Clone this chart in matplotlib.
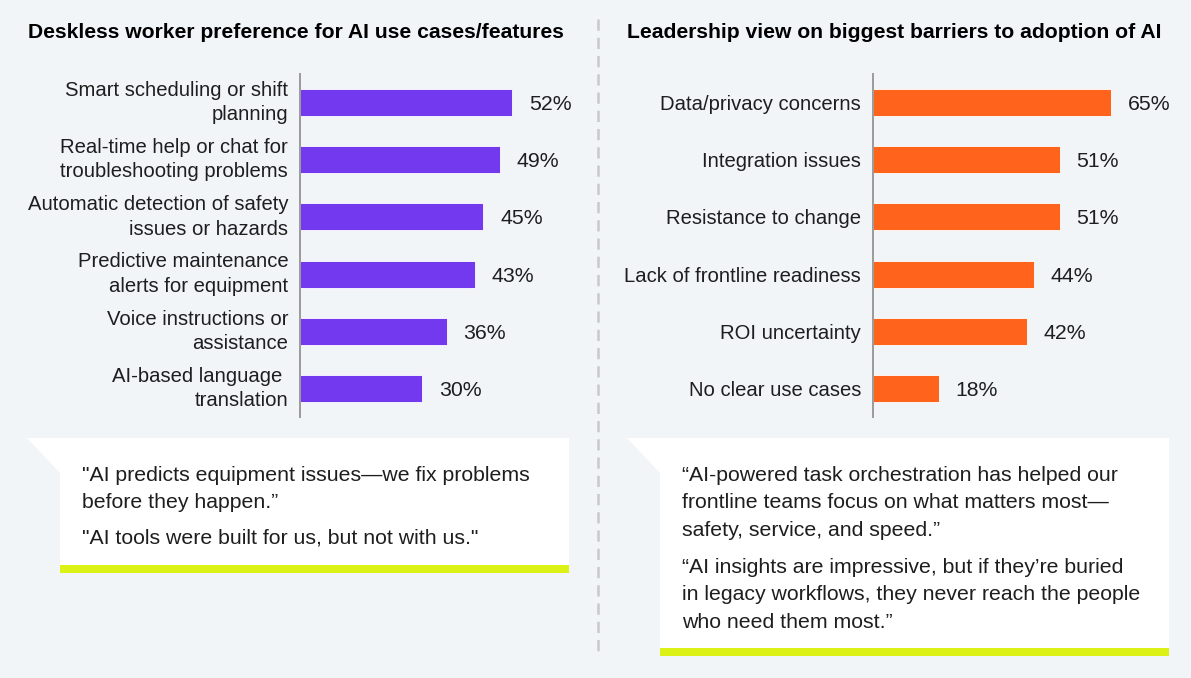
import matplotlib.pyplot as plt
from matplotlib.patches import Polygon, Rectangle
from matplotlib.lines import Line2D

plt.rcParams['font.family'] = ['Liberation Sans', 'DejaVu Sans']

W, H = 1191, 678
BG = '#f2f5f8'
PURPLE = '#7339ef'
ORANGE = '#ff631c'
LIME = '#dcf116'
TXT = '#1e1e1e'
FS_LAB = 14.6
FS_TXT = 15.3
FS_TITLE = 15.2

# --- dati ---
left_title = 'Deskless worker preference for AI use cases/features'
left_labels = ['Smart scheduling or shift\nplanning',
               'Real-time help or chat for\ntroubleshooting problems',
               'Automatic detection of safety\nissues or hazards',
               'Predictive maintenance\nalerts for equipment',
               'Voice instructions or\nassistance',
               'AI-based language \ntranslation']
left_values = [52, 49, 45, 43, 36, 30]

right_title = 'Leadership view on biggest barriers to adoption of AI'
right_labels = ['Data/privacy concerns', 'Integration issues', 'Resistance to change',
                'Lack of frontline readiness', 'ROI uncertainty', 'No clear use cases']
right_values = [65, 51, 51, 44, 42, 18]

left_quotes = ['"AI predicts equipment issues\u2014we fix problems\nbefore they happen.\u201d',
               '"AI tools were built for us, but not with us."']
right_quotes = ['\u201cAI-powered task orchestration has helped our\nfrontline teams focus on what matters most\u2014\nsafety, service, and speed.\u201d',
                '\u201cAI insights are impressive, but if they\u2019re buried\nin legacy workflows, they never reach the people\nwho need them most.\u201d']

fig = plt.figure(figsize=(W / 100, H / 100), dpi=100)
fig.patch.set_facecolor(BG)

# asse di sfondo in pixel
bg = fig.add_axes([0, 0, 1, 1], zorder=0)
bg.set_xlim(0, W)
bg.set_ylim(H, 0)
bg.axis('off')


def px_axes(x0, y0, x1, y1):
    """Crea un asse dati posizionato in coordinate pixel."""
    ax = fig.add_axes([x0 / W, 1 - y1 / H, (x1 - x0) / W, (y1 - y0) / H], zorder=2)
    ax.patch.set_alpha(0)
    return ax


def quote_box(x0, x1, y0, y1, notch=33):
    """Riquadro bianco con angolo tagliato e barra lime sotto."""
    poly = Polygon([(x0, y0), (x1, y0), (x1, y1), (x0 + notch, y1),
                    (x0 + notch, y0 + 35)], closed=True, fc='white', ec='none')
    bg.add_patch(poly)
    bg.add_patch(Rectangle((x0 + notch, y1 - 1), x1 - x0 - notch, 8, fc=LIME, ec='none'))


def bar_panel(ax, labels, values, color, scale):
    pos = range(len(values))
    bars = ax.barh(pos, values, height=0.47, color=color, edgecolor='white', linewidth=0.6)
    ax.set_ylim(len(values) - 0.5, -0.5)
    ax.set_xlim(0, ax.bbox.width / scale)
    ax.set_yticks(list(pos))
    ax.set_yticklabels(labels, fontsize=FS_LAB, color=TXT, linespacing=1.36)
    for t in ax.get_yticklabels():
        if '\n' in t.get_text():
            t.set_verticalalignment('center')
    ax.tick_params(axis='y', length=0, pad=8.5)
    ax.set_xticks([])
    for s in ['top', 'right', 'bottom']:
        ax.spines[s].set_visible(False)
    ax.spines['left'].set_color('#9a9a9a')
    ax.spines['left'].set_linewidth(1.4)
    lbls = ax.bar_label(bars, labels=[f'{v}%' for v in values], padding=12,
                        fontsize=FS_TXT, color=TXT)
    for t in lbls:
        t.set_verticalalignment('center_baseline')


ax_l = px_axes(300, 74, 580, 417)
bar_panel(ax_l, left_labels, left_values, PURPLE, 212 / 52)
ax_r = px_axes(873, 74, 1185, 417)
bar_panel(ax_r, right_labels, right_values, ORANGE, 238 / 65)

bg.text(28, 33, left_title, fontsize=FS_TITLE, fontweight='bold', color='black', va='center')
bg.text(627, 33, right_title, fontsize=FS_TITLE, fontweight='bold', color='black', va='center')

# divisore tratteggiato
bg.add_line(Line2D([598, 598], [19, 655], color='#c9c9c9', linewidth=1.8,
                   linestyle=(0, (4.5, 2.8))))

quote_box(27, 569, 438, 566)
quote_box(627, 1169, 438, 649)

bg.text(82, 489, left_quotes[0], fontsize=FS_TXT, color=TXT, va='center', linespacing=1.55)
bg.text(82, 538, left_quotes[1], fontsize=FS_TXT, color=TXT, va='center')
bg.text(682, 503, right_quotes[0], fontsize=FS_TXT, color=TXT, va='center', linespacing=1.55)
bg.text(682, 595, right_quotes[1], fontsize=FS_TXT, color=TXT, va='center', linespacing=1.55)

plt.savefig('out.png', dpi=100, facecolor=BG)
